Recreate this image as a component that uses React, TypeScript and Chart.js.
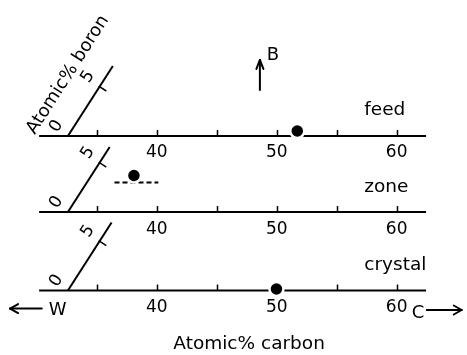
import React, { useEffect, useRef } from "react";
import { Chart, registerables } from "chart.js";

Chart.register(...registerables);

// ---------- data ----------
const rowNames = ["feed", "zone", "crystal"];
const carbonTicks = [35, 40, 45, 50, 55, 60];
const carbonLabelValues = [40, 50, 60];
const carbonLabels = ["40", "50", "60"];
const carbonAxisStart = 30.2;
const carbonAxisEnd = 62.45;
const boronOriginCarbon = 32.6;
const boronAxisEnd = [7.1, 6.6, 6.9];
const boronTickValues = [0, 5];
const boronTickLabels = ["0", "5"];
const pointCarbon = [51.45, 36.15, 49.9];
const pointBoron = [0.5, 3.7, 0.15];
const zoneRangeCarbon = [34.9, 38.55];
const zoneRangeBoron = [3.0, 3.0];

// ---------- layout ----------
const W = 467;
const H = 355;
const X_MIN = 26.94;
const X_MAX = 65.86;
const Y_MIN = -6.54;
const Y_MAX = 29.46;
const rowLevel = [15.67, 7.96, 0];
const SKEW_X = 0.5275; // carbon units shifted per boron unit (oblique axis)
const FONT = '"DejaVu Sans", sans-serif';

const project = (c: number, b: number, row: number) => ({
  x: c + SKEW_X * b,
  y: rowLevel[row] + b,
});

const decorPlugin = {
  id: "decor",
  afterDatasetsDraw(chart: any) {
    const ctx: CanvasRenderingContext2D = chart.ctx;
    const xs = chart.scales.x;
    const ys = chart.scales.y;
    const px = (c: number) => xs.getPixelForValue(c);
    const py = (v: number) => ys.getPixelForValue(v);
    ctx.save();
    ctx.fillStyle = "#000";
    ctx.strokeStyle = "#000";

    // direction of the oblique boron axis
    const ux = px(boronOriginCarbon + SKEW_X) - px(boronOriginCarbon);
    const uy = py(1) - py(0);
    const len = Math.hypot(ux, uy);
    const dx = ux / len;
    const dy = uy / len;
    const nx = dy;
    const ny = -dx;
    const angle = Math.atan2(dy, dx);

    const line = (x1: number, y1: number, x2: number, y2: number, w: number) => {
      ctx.lineWidth = w;
      ctx.beginPath();
      ctx.moveTo(x1, y1);
      ctx.lineTo(x2, y2);
      ctx.stroke();
    };
    const rotText = (t: string, x: number, y: number, size: number) => {
      ctx.save();
      ctx.translate(x, y);
      ctx.rotate(angle);
      ctx.font = `${size}px ${FONT}`;
      ctx.textAlign = "center";
      ctx.textBaseline = "middle";
      ctx.fillText(t, 0, 0);
      ctx.restore();
    };

    rowNames.forEach((name, i) => {
      const y0 = py(rowLevel[i]);
      // carbon ticks (upward)
      carbonTicks.forEach((t) => {
        const x = Math.round(px(t)) + 0.5;
        line(x, y0, x, y0 - 6, 1.5);
      });
      // carbon labels
      ctx.font = `17px ${FONT}`;
      ctx.textAlign = "center";
      ctx.textBaseline = "alphabetic";
      carbonLabelValues.forEach((v, k) => {
        ctx.fillText(carbonLabels[k], px(v), y0 + 21.5);
      });
      // boron ticks and labels
      boronTickValues.forEach((b, k) => {
        const p = project(boronOriginCarbon, b, i);
        const x = px(p.x);
        const y = py(p.y);
        if (b > 0) line(x + nx, y + ny, x - nx * 8, y - ny * 8, 1.5);
        rotText(boronTickLabels[k], x + nx * 15 + dx * 2, y + ny * 15 + dy * 2, 17);
      });
      // row label
      ctx.font = `18.5px ${FONT}`;
      ctx.textAlign = "left";
      ctx.textBaseline = "alphabetic";
      ctx.fillText(name, px(57.3), y0 - 20.5);
    });

    // boron axis title
    const tp = project(boronOriginCarbon, 4.4, 0);
    rotText("Atomic% boron", px(tp.x) + nx * 33, py(tp.y) + ny * 33, 18);

    // carbon axis title
    const yc = py(rowLevel[2]);
    ctx.font = `18.5px ${FONT}`;
    ctx.textAlign = "center";
    ctx.textBaseline = "alphabetic";
    ctx.fillText("Atomic% carbon", px(47.7), yc + 58.5);

    // W arrow
    ctx.lineCap = "round";
    const wy = yc + 18;
    const wx1 = px(27.78);
    line(wx1, wy, px(30.42), wy, 2);
    line(wx1, wy, wx1 + 8, wy - 4.5, 2);
    line(wx1, wy, wx1 + 8, wy + 4.5, 2);
    ctx.font = `18px ${FONT}`;
    ctx.textAlign = "left";
    ctx.fillText("W", px(31.0), yc + 24.5);

    // C arrow
    const cy = yc + 19.5;
    const cx2 = px(65.42);
    line(px(62.5), cy, cx2, cy, 1.8);
    line(cx2, cy, cx2 - 8, cy - 4.5, 1.8);
    line(cx2, cy, cx2 - 8, cy + 4.5, 1.8);
    ctx.fillText("C", px(61.25), yc + 27.5);

    // B arrow
    const yf = py(rowLevel[0]);
    const bx = px(48.6);
    line(bx, yf - 46, bx, yf - 76, 2);
    line(bx, yf - 76, bx - 3.5, yf - 67, 2);
    line(bx, yf - 76, bx + 3.5, yf - 67, 2);
    ctx.fillText("B", px(49.17), yf - 76);

    ctx.restore();
  },
};

export default function App() {
  const ref = useRef<HTMLCanvasElement | null>(null);

  useEffect(() => {
    if (!ref.current) return;
    const datasets: any[] = [];

    // points (first = drawn on top)
    datasets.push({
      type: "scatter",
      data: rowNames.map((_, i) => project(pointCarbon[i], pointBoron[i], i)),
      pointRadius: 7,
      pointHoverRadius: 7,
      backgroundColor: "#000",
      borderColor: "#fff",
      borderWidth: 2.5,
      showLine: false,
    });

    // zone composition range (dashed)
    datasets.push({
      type: "line",
      data: zoneRangeCarbon.map((c, k) => project(c, zoneRangeBoron[k], 1)),
      borderColor: "#000",
      borderWidth: 2,
      borderDash: [5, 3],
      pointRadius: 0,
      fill: false,
      showLine: true,
    });

    rowNames.forEach((_, i) => {
      // carbon axis line
      datasets.push({
        type: "line",
        data: [project(carbonAxisStart, 0, i), project(carbonAxisEnd, 0, i)],
        borderColor: "#000",
        borderWidth: 2,
        pointRadius: 0,
        fill: false,
        showLine: true,
      });
      // oblique boron axis
      datasets.push({
        type: "line",
        data: [project(boronOriginCarbon, 0, i), project(boronOriginCarbon, boronAxisEnd[i], i)],
        borderColor: "#000",
        borderWidth: 2,
        pointRadius: 0,
        fill: false,
        showLine: true,
      });
    });

    const chart = new Chart(ref.current, {
      type: "scatter",
      data: { datasets },
      options: {
        responsive: false,
        animation: false,
        events: [],
        layout: { padding: 0, autoPadding: false },
        plugins: { legend: { display: false }, tooltip: { enabled: false }, title: { display: false } },
        scales: {
          x: { type: "linear", min: X_MIN, max: X_MAX, display: false },
          y: { type: "linear", min: Y_MIN, max: Y_MAX, display: false },
        },
      },
      plugins: [decorPlugin],
    } as any);
    return () => chart.destroy();
  }, []);

  return (
    <div style={{ position: "fixed", left: 0, top: 0, width: W, height: H, background: "#fff" }}>
      <canvas ref={ref} width={W} height={H} style={{ width: W, height: H, display: "block" }} />
    </div>
  );
}
